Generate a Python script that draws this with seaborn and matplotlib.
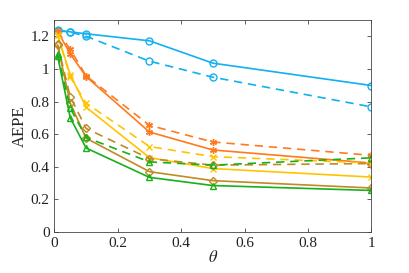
import numpy as np
import pandas as pd
import seaborn as sns
from matplotlib import pyplot as plt

theta = [0.01, 0.05, 0.1, 0.3, 0.5, 1.0]

# solid / dashed pairs for each method
blue_solid = [1.237, 1.227, 1.215, 1.172, 1.035, 0.898]
blue_dashed = [1.235, 1.225, 1.200, 1.047, 0.949, 0.767]
orange_solid = [1.230, 1.092, 0.953, 0.613, 0.503, 0.423]
orange_dashed = [1.230, 1.120, 0.957, 0.654, 0.552, 0.470]
yellow_solid = [1.205, 0.965, 0.765, 0.456, 0.389, 0.337]
yellow_dashed = [1.210, 0.950, 0.790, 0.524, 0.462, 0.423]
brown_solid = [1.145, 0.790, 0.575, 0.370, 0.315, 0.270]
brown_dashed = [1.150, 0.830, 0.635, 0.450, 0.410, 0.420]
green_solid = [1.080, 0.700, 0.515, 0.335, 0.285, 0.255]
green_dashed = [1.090, 0.760, 0.580, 0.430, 0.410, 0.455]

series = [
    ('blue', blue_solid, '-', 'o', '#12b0f0'),
    ('blue', blue_dashed, '--', 'o', '#12b0f0'),
    ('orange', orange_solid, '-', (6, 2, 0), '#ff7a1e'),
    ('orange', orange_dashed, '--', (6, 2, 0), '#ff7a1e'),
    ('yellow', yellow_solid, '-', 'x', '#ffc400'),
    ('yellow', yellow_dashed, '--', 'x', '#ffc400'),
    ('brown', brown_solid, '-', 'D', '#c08a26'),
    ('brown', brown_dashed, '--', 'D', '#c08a26'),
    ('green', green_solid, '-', '^', '#18b018'),
    ('green', green_dashed, '--', '^', '#18b018'),
]

sns.set_style('ticks')
plt.rcParams['font.family'] = ['Liberation Serif', 'DejaVu Serif']
plt.rcParams['mathtext.fontset'] = 'stix'

fig = plt.figure(figsize=(4.09, 2.73), dpi=100)
ax = fig.add_axes([0.133, 0.150, 0.775, 0.777])

for name, vals, ls, mk, col in series:
    df = pd.DataFrame({'theta': theta, 'aepe': vals})
    line = sns.lineplot(data=df, x='theta', y='aepe', ax=ax, color=col, linestyle=ls,
                        marker=mk, markersize=5 if mk != 'D' else 4, markerfacecolor='none',
                        markeredgecolor=col, markeredgewidth=1.0, linewidth=1.2).lines[-1]
    if ls == '--':
        line.set_dashes((5, 3.5))

ax.set_xlim(0, 1)
ax.set_ylim(0, 1.3)
ax.set_xticks([0, 0.2, 0.4, 0.6, 0.8, 1])
ax.set_xticklabels(['0', '0.2', '0.4', '0.6', '0.8', '1'])
ax.set_yticks([0, 0.2, 0.4, 0.6, 0.8, 1.0, 1.2])
ax.set_yticklabels(['0', '0.2', '0.4', '0.6', '0.8', '1', '1.2'])
ax.tick_params(direction='in', top=True, right=True, labelsize=11, length=3,
               color='#444444', labelcolor='#222222', width=0.6)
for s in ax.spines.values():
    s.set_visible(True)
    s.set_color('#444444')
    s.set_linewidth(0.6)
ax.set_xlabel(r'$\theta$', fontsize=12, labelpad=0)
ax.set_ylabel('AEPE', fontsize=12, labelpad=2)

fig.savefig('out.png', dpi=100)
